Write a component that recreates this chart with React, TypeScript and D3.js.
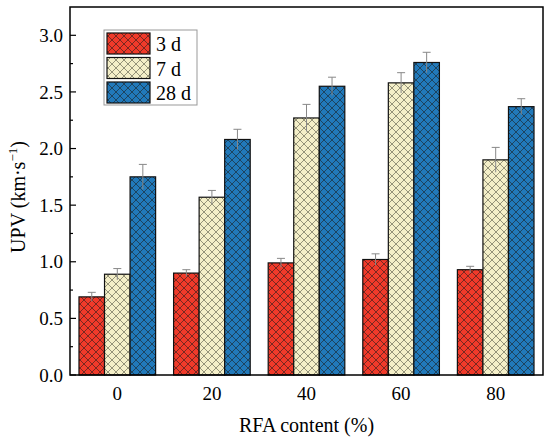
import React, { useEffect, useRef } from 'react';
import * as d3 from 'd3';

// RFA content groups and curing ages
const categories = ['0', '20', '40', '60', '80'];
const ages = ['3 d', '7 d', '28 d'];

// UPV (km/s) per age, one value per category
const upv3 = [0.69, 0.90, 0.99, 1.02, 0.93];
const upv7 = [0.89, 1.57, 2.27, 2.58, 1.90];
const upv28 = [1.75, 2.08, 2.55, 2.76, 2.37];

// error bar half-heights
const err3 = [0.04, 0.03, 0.04, 0.05, 0.03];
const err7 = [0.05, 0.06, 0.12, 0.09, 0.11];
const err28 = [0.11, 0.09, 0.08, 0.09, 0.07];

const yTicks = [0, 0.5, 1.0, 1.5, 2.0, 2.5, 3.0];

const colors = ['#F03A2A', '#F4EFC8', '#2179BA'];

const App: React.FC = () => {
  const svgRef = useRef<SVGSVGElement>(null);

  useEffect(() => {
    if (!svgRef.current) return;
    const svg = d3.select(svgRef.current);
    svg.selectAll('*').remove();

    const width = 550;
    const height = 440;
    const margin = { top: 7, right: 7, bottom: 65, left: 70 };
    const font = '"Liberation Serif", "Times New Roman", serif';

    const series = [upv3, upv7, upv28];
    const errs = [err3, err7, err28];

    const x = d3.scaleBand<string>()
      .domain(categories)
      .range([margin.left, width - margin.right])
      .paddingInner(0)
      .paddingOuter(0);

    const inner = d3.scaleBand<string>()
      .domain(ages)
      .range([0, x.bandwidth() * 0.81]);

    const y = d3.scaleLinear()
      .domain([0, 3.25])
      .range([height - margin.bottom, margin.top]);

    // hatch patterns
    const defs = svg.append('defs');
    colors.forEach((c, i) => {
      const p = defs.append('pattern')
        .attr('id', `hatch${i}`)
        .attr('patternUnits', 'userSpaceOnUse')
        .attr('width', 8)
        .attr('height', 8);
      p.append('rect').attr('width', 8).attr('height', 8).attr('fill', c);
      p.append('path')
        .attr('d', 'M0,0 L8,8 M8,0 L0,8 M-2,6 L2,10 M6,-2 L10,2 M-2,2 L2,-2 M6,10 L10,6')
        .attr('stroke', i === 1 ? '#4a4a3a' : '#1a1a1a')
        .attr('stroke-opacity', 0.8)
        .attr('stroke-width', 0.7);
    });

    const offset = (x.bandwidth() - x.bandwidth() * 0.81) / 2;

    // bars
    series.forEach((vals, si) => {
      const g = svg.append('g');
      g.selectAll('rect')
        .data(vals)
        .enter().append('rect')
        .attr('x', (_, i) => (x(categories[i]) as number) + offset + (inner(ages[si]) as number))
        .attr('y', d => y(d))
        .attr('width', inner.bandwidth())
        .attr('height', d => y(0) - y(d))
        .attr('fill', `url(#hatch${si})`)
        .attr('stroke', '#111')
        .attr('stroke-width', 1.2);

      // error bars
      const eg = svg.append('g').attr('stroke', '#888').attr('stroke-width', 1);
      vals.forEach((v, i) => {
        const cx = (x(categories[i]) as number) + offset + (inner(ages[si]) as number) + inner.bandwidth() / 2;
        const e = errs[si][i];
        eg.append('line').attr('x1', cx).attr('x2', cx).attr('y1', y(v + e)).attr('y2', y(v - e));
        eg.append('line').attr('x1', cx - 4).attr('x2', cx + 4).attr('y1', y(v + e)).attr('y2', y(v + e));
      });
    });

    // frame
    svg.append('rect')
      .attr('x', margin.left)
      .attr('y', margin.top)
      .attr('width', width - margin.left - margin.right)
      .attr('height', height - margin.top - margin.bottom)
      .attr('fill', 'none')
      .attr('stroke', '#000')
      .attr('stroke-width', 1.5);

    // y axis ticks (inward)
    const yAxis = svg.append('g').attr('transform', `translate(${margin.left},0)`);
    const minor = d3.range(0.25, 3.25, 0.5);
    yAxis.selectAll('line.minor')
      .data(minor)
      .enter().append('line')
      .attr('x1', 0).attr('x2', 3)
      .attr('y1', d => y(d)).attr('y2', d => y(d))
      .attr('stroke', '#000').attr('stroke-width', 1.2);
    yAxis.selectAll('line.major')
      .data(yTicks)
      .enter().append('line')
      .attr('x1', 0).attr('x2', 6)
      .attr('y1', d => y(d)).attr('y2', d => y(d))
      .attr('stroke', '#000').attr('stroke-width', 1.2);
    yAxis.selectAll('text')
      .data(yTicks)
      .enter().append('text')
      .attr('x', -7)
      .attr('y', d => y(d))
      .attr('dy', '0.35em')
      .attr('text-anchor', 'end')
      .attr('font-family', font)
      .attr('font-size', 19)
      .text(d => d3.format('.1f')(d));

    // x labels
    svg.append('g').selectAll('text')
      .data(categories)
      .enter().append('text')
      .attr('x', d => (x(d) as number) + x.bandwidth() / 2)
      .attr('y', y(0) + 25)
      .attr('text-anchor', 'middle')
      .attr('font-family', font)
      .attr('font-size', 19)
      .text(d => d);

    // axis titles
    svg.append('text')
      .attr('x', (margin.left + width - margin.right) / 2)
      .attr('y', 432)
      .attr('text-anchor', 'middle')
      .attr('font-family', font)
      .attr('font-size', 20)
      .text('RFA content (%)');

    const yt = svg.append('text')
      .attr('transform', `translate(25,197) rotate(-90)`)
      .attr('text-anchor', 'middle')
      .attr('font-family', font)
      .attr('font-size', 20);
    yt.append('tspan').text('UPV (km·s');
    yt.append('tspan').attr('dy', -8).attr('font-size', 13).text('−1');
    yt.append('tspan').attr('dy', 8).text(')');

    // legend
    const lg = svg.append('g');
    lg.append('rect')
      .attr('x', 104).attr('y', 30)
      .attr('width', 93).attr('height', 75)
      .attr('fill', '#fff')
      .attr('stroke', '#999')
      .attr('stroke-width', 1);
    ages.forEach((a, i) => {
      lg.append('rect')
        .attr('x', 107).attr('y', 33 + i * 24.5)
        .attr('width', 43).attr('height', 21)
        .attr('fill', `url(#hatch${i})`)
        .attr('stroke', '#111')
        .attr('stroke-width', 1.2);
      lg.append('text')
        .attr('x', 156).attr('y', 44 + i * 24.5)
        .attr('dy', '0.35em')
        .attr('font-family', font)
        .attr('font-size', 20)
        .text(a);
    });
  }, []);

  return (
    <div style={{ position: 'absolute', left: 0, top: 0 }}>
      <svg ref={svgRef} width={550} height={440} style={{ display: 'block', background: '#fff' }} />
    </div>
  );
};

export default App;
